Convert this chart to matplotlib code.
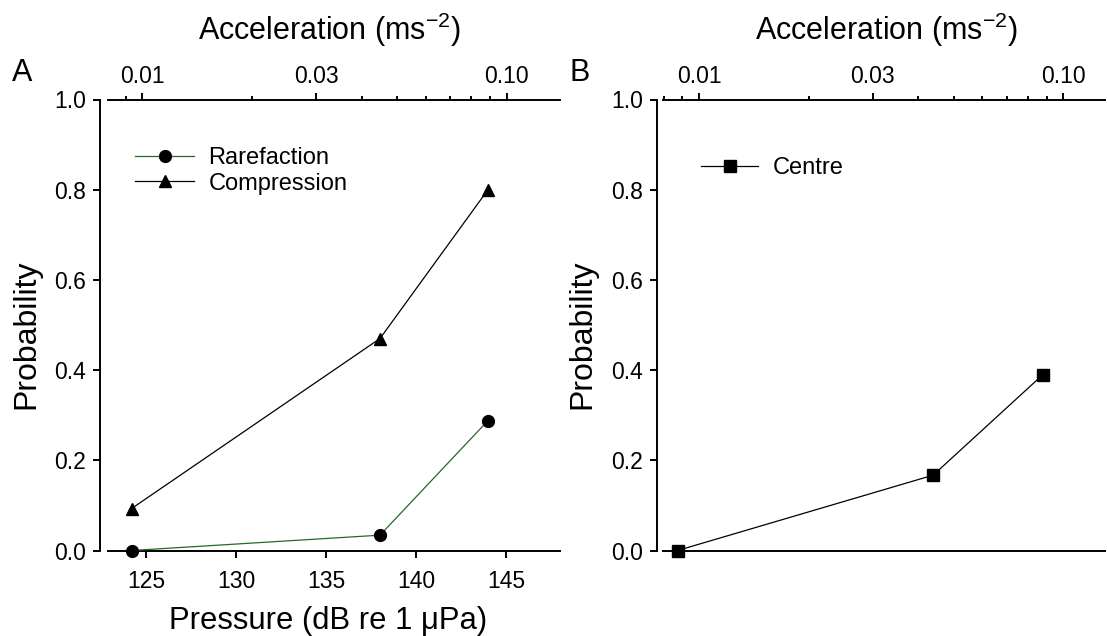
import numpy as np
import matplotlib
matplotlib.use("Agg")
import matplotlib.pyplot as plt
from matplotlib.ticker import FixedLocator, FixedFormatter, NullFormatter, NullLocator

plt.rcParams['font.family'] = ['Liberation Sans', 'DejaVu Sans']
plt.rcParams['mathtext.fontset'] = 'custom'
plt.rcParams['mathtext.rm'] = 'Liberation Sans'
plt.rcParams['mathtext.it'] = 'Liberation Sans:italic'

# ---- data ----
pressure_A = [124.2, 138.0, 144.0]          # dB re 1 uPa
rarefaction = [0.0, 0.034, 0.288]
compression = [0.093, 0.470, 0.800]

pressure_B = [123.6, 137.8, 143.9]          # dB re 1 uPa
centre = [0.0, 0.167, 0.390]

pressure_ticks = [125, 130, 135, 140, 145]
acc_major = [0.01, 0.03, 0.10]
acc_major_labels = ['0.01', '0.03', '0.10']
acc_minor = [0.008, 0.009, 0.02, 0.04, 0.05, 0.06, 0.07, 0.08, 0.09]
prob_ticks = [0.0, 0.2, 0.4, 0.6, 0.8, 1.0]

# dB -> acceleration (about 20 dB per decade)
DB_AT_001 = 124.79
DB_PER_DECADE = 20.24
def to_acc(db):
    return 10 ** (-2 + (np.asarray(db) - DB_AT_001) / DB_PER_DECADE)

W, H = 1107, 636
fig = plt.figure(figsize=(W / 100, H / 100), dpi=100)

def px_axes(x0, x1, y0, y1):
    return fig.add_axes([x0 / W, 1 - y1 / H, (x1 - x0) / W, (y1 - y0) / H])

axA = px_axes(108, 560, 99.5, 550.5)
axB = px_axes(663, 1105, 99.5, 550.5)

TICK_FS = 16.5
LAB_FS = 23
LW_SPINE = 1.4
green = '#236b23'

def style(ax, xlim, show_bottom_ticks, left_offset):
    ax.set_xlim(*xlim)
    ax.set_ylim(0, 1.0)
    for s in ['top', 'right']:
        ax.spines[s].set_visible(False)
    for s in ['left', 'bottom']:
        ax.spines[s].set_linewidth(LW_SPINE)
    ax.spines['left'].set_position(('outward', left_offset))
    ax.set_yticks(prob_ticks)
    ax.set_yticklabels([f'{v:.1f}' for v in prob_ticks])
    ax.tick_params(axis='y', direction='out', length=5, width=LW_SPINE,
                   labelsize=TICK_FS, pad=5)
    if show_bottom_ticks:
        ax.set_xticks(pressure_ticks)
        ax.set_xticklabels([str(t) for t in pressure_ticks])
        ax.tick_params(axis='x', direction='out', length=5, width=LW_SPINE,
                       labelsize=TICK_FS, pad=9)
    else:
        ax.xaxis.set_major_locator(NullLocator())
    ax.set_ylabel('Probability', fontsize=LAB_FS)
    ax.yaxis.set_label_coords(-0.148, 0.48)

    top = ax.twiny()
    top.set_xscale('log')
    top.set_xlim(to_acc(xlim[0]), to_acc(xlim[1]))
    for s in ['bottom', 'left', 'right']:
        top.spines[s].set_visible(False)
    top.spines['top'].set_linewidth(LW_SPINE)
    top.xaxis.set_major_locator(FixedLocator(acc_major))
    top.xaxis.set_major_formatter(FixedFormatter(acc_major_labels))
    top.xaxis.set_minor_locator(FixedLocator(acc_minor))
    top.xaxis.set_minor_formatter(NullFormatter())
    top.tick_params(axis='x', which='major', direction='out', length=5,
                    width=LW_SPINE, labelsize=TICK_FS, pad=3)
    top.tick_params(axis='x', which='minor', direction='out', length=3,
                    width=LW_SPINE)
    return top

style(axA, (122.89, 148.0), True, 5.8)
style(axB, (122.79, 147.35), False, 4.3)

axA.set_xlabel('Pressure (dB re 1 μPa)', fontsize=22.3)
axA.xaxis.set_label_coords(0.487, -0.124)

# ---- series ----
l1, = axA.plot(pressure_A, rarefaction, color=green, lw=0.9, marker='o',
               ms=8.5, mfc='black', mec='black', label='Rarefaction',
               zorder=5, clip_on=False)
l2, = axA.plot(pressure_A, compression, color='black', lw=0.9, marker='^',
               ms=9, mfc='black', mec='black', label='Compression',
               zorder=5, clip_on=False)
axA.legend(handles=[l1, l2], loc='upper left', bbox_to_anchor=(0.06, 0.894),
           frameon=False, fontsize=17, handlelength=2.5, handletextpad=0.6,
           borderpad=0, borderaxespad=0, labelspacing=0.14)

l3, = axB.plot(pressure_B, centre, color='black', lw=0.9, marker='s',
               ms=8.5, mfc='black', mec='black', label='Centre',
               zorder=5, clip_on=False)
axB.legend(handles=[l3], loc='upper left', bbox_to_anchor=(0.087, 0.872),
           frameon=False, fontsize=17, handlelength=2.4, handletextpad=0.6,
           borderpad=0, borderaxespad=0)

# ---- titles / panel letters ----
fig.text(329 / W, 1 - 30 / H, 'Acceleration (ms$^{-2}$)', fontsize=22,
         ha='center', va='center')
fig.text(886 / W, 1 - 30 / H, 'Acceleration (ms$^{-2}$)', fontsize=22,
         ha='center', va='center')
fig.text(22 / W, 1 - 73 / H, 'A', fontsize=22, ha='center', va='center')
fig.text(580 / W, 1 - 73 / H, 'B', fontsize=22, ha='center', va='center')

fig.savefig('out.png', dpi=100)
